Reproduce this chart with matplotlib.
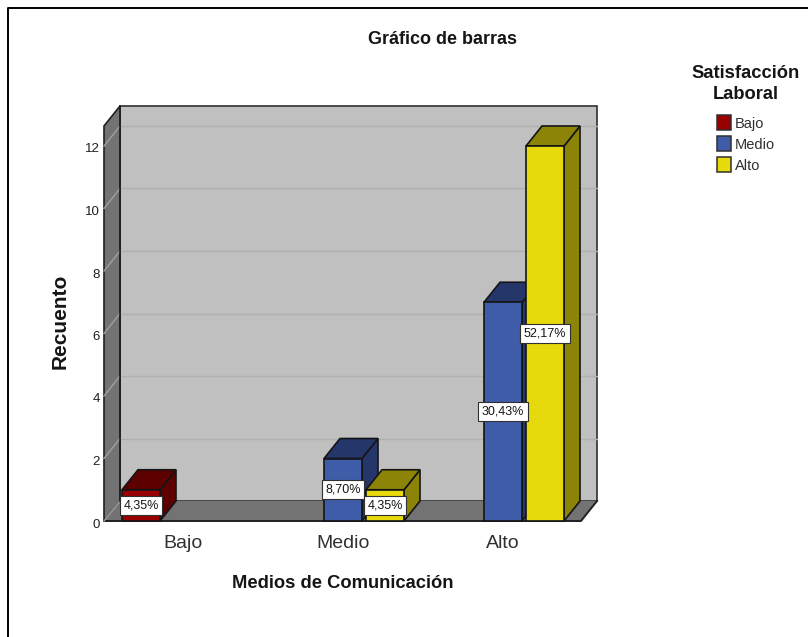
import matplotlib
matplotlib.use("Agg")
import matplotlib.pyplot as plt
from matplotlib.lines import Line2D
from matplotlib.patches import Polygon, Rectangle
from matplotlib.transforms import ScaledTranslation

plt.rcParams["font.family"] = ["Liberation Sans", "DejaVu Sans"]

categories = ["Bajo", "Medio", "Alto"]
series_names = ["Bajo", "Medio", "Alto"]
y_ticks = [0, 2, 4, 6, 8, 10, 12]

# (categoria, serie, recuento, etiqueta)
cat_idx = [0, 1, 1, 2, 2]
ser_idx = [0, 1, 2, 1, 2]
counts = [1, 2, 1, 7, 12]
pct_labels = ["4,35%", "8,70%", "4,35%", "30,43%", "52,17%"]

front_colors = ["#990000", "#3e5ca8", "#e6d90c"]
dark_colors = ["#5c0000", "#25376a", "#8c8406"]

W, H = 808, 637
fig = plt.figure(figsize=(W / 100, H / 100), dpi=100)

# marco: solo se ven el lado izquierdo y el de arriba
fig.add_artist(Line2D([8 / W, 8 / W, 1], [0, 1 - 8 / H, 1 - 8 / H], color="black", lw=1.4))

# ejes: frente de 104 a 581 px, cero en y=521, 31.25 px por unidad
ax = fig.add_axes([104 / W, 1 - 521 / H, 477 / W, 415 / H])
x_unit = 160.0
y_unit = 31.25
ax.set_xlim(-79 / x_unit, 398 / x_unit)
ax.set_ylim(0, 415 / y_unit)
ax.patch.set_visible(False)
for s in ax.spines.values():
    s.set_visible(False)

dx = 16 / x_unit
dy = 20 / y_unit
x0, x1 = ax.get_xlim()
ytop = ax.get_ylim()[1] - dy

# paredes
ax.add_patch(Polygon([(x0 + dx, dy), (x1 + dx, dy), (x1 + dx, ytop + dy), (x0 + dx, ytop + dy)],
                     fc="#c0c0c0", ec="#303030", lw=1.2, clip_on=False, zorder=1))
ax.add_patch(Polygon([(x0, 0), (x0 + dx, dy), (x0 + dx, ytop + dy), (x0, ytop)],
                     fc="#737373", ec="#202020", lw=1.2, clip_on=False, zorder=1.1))
ax.add_patch(Polygon([(x0, 0), (x1, 0), (x1 + dx, dy), (x0 + dx, dy)],
                     fc="#737373", ec="none", clip_on=False, zorder=1.1))
ax.plot([x0, x1, x1 + dx], [0, 0, dy], color="#202020", lw=1.4, clip_on=False, zorder=1.2)
ax.plot([x0 + dx, x0 + dx], [dy, ytop + dy], color="#202020", lw=1.2, clip_on=False, zorder=1.4)

# lineas de rejilla
for t in y_ticks:
    ax.plot([x0, x0 + dx], [t, t + dy], color="#a0a0a0", lw=1, clip_on=False, zorder=1.3)
    if t > 0:
        ax.plot([x0 + dx, x1 + dx], [t + dy, t + dy], color="#b0b0b0", lw=1, clip_on=False, zorder=1.05)

ax.set_xticks(range(len(categories)), categories)
ax.set_yticks(y_ticks)
ax.tick_params(axis="x", length=0, labelsize=14, pad=10, labelcolor="#303030")
ax.tick_params(axis="y", length=0, labelsize=9.5, pad=3, labelcolor="#202020")
for lab in ax.get_yticklabels():
    lab.set_transform(lab.get_transform() + ScaledTranslation(0, -2 / 100, fig.dpi_scale_trans))

# barras 3d
bar_w = 38 / x_unit
offset = 42 / x_unit
order = sorted(range(len(counts)), key=lambda i: (cat_idx[i], ser_idx[i]))
for n, i in enumerate(order):
    xc = cat_idx[i] + (ser_idx[i] - 1) * offset
    l, r = xc - bar_w / 2, xc + bar_w / 2
    h = counts[i]
    z = 3 + n * 0.1
    ax.add_patch(Polygon([(r, 0), (r + dx, dy), (r + dx, h + dy), (r, h)], fc=dark_colors[ser_idx[i]],
                         ec="#151515", lw=1.2, clip_on=False, zorder=z))
    ax.add_patch(Polygon([(l, h), (r, h), (r + dx, h + dy), (l + dx, h + dy)], fc=dark_colors[ser_idx[i]],
                         ec="#151515", lw=1.2, clip_on=False, zorder=z))
    ax.add_patch(Rectangle((l, 0), bar_w, h, fc=front_colors[ser_idx[i]],
                           ec="#151515", lw=1.2, clip_on=False, zorder=z))

for i in range(len(counts)):
    xc = cat_idx[i] + (ser_idx[i] - 1) * offset
    ax.text(xc, counts[i] / 2, pct_labels[i], ha="center", va="center", fontsize=9, color="#151515",
            zorder=6, bbox=dict(boxstyle="square,pad=0.28", fc="white", ec="#303030", lw=0.8))

fig.text(442 / W, 1 - 39.5 / H, "Gráfico de barras", ha="center", va="center",
         fontsize=13, fontweight="bold", color="#151515")
fig.text(343 / W, 1 - 583.5 / H, "Medios de Comunicación", ha="center", va="center",
         fontsize=13.2, fontweight="bold", color="#151515")
fig.text(60 / W, 1 - 321 / H, "Recuento", ha="center", va="center", rotation=90,
         fontsize=15, fontweight="bold", color="#151515")

# leyenda
fig.text(746 / W, 1 - 84 / H, "Satisfacción\nLaboral", ha="center", va="center", fontsize=13.2,
         fontweight="bold", color="#151515", linespacing=1.25)
for k, name in enumerate(series_names):
    yc = 122 + k * 21
    fig.add_artist(Rectangle((717 / W, 1 - (yc + 8) / H), 14 / W, 15 / H, transform=fig.transFigure,
                             fc=front_colors[k], ec="#303030", lw=1.1))
    fig.text(735 / W, 1 - (yc + 2) / H, name, ha="left", va="center", fontsize=10.5, color="#303030")

fig.savefig("out.png", dpi=100)
